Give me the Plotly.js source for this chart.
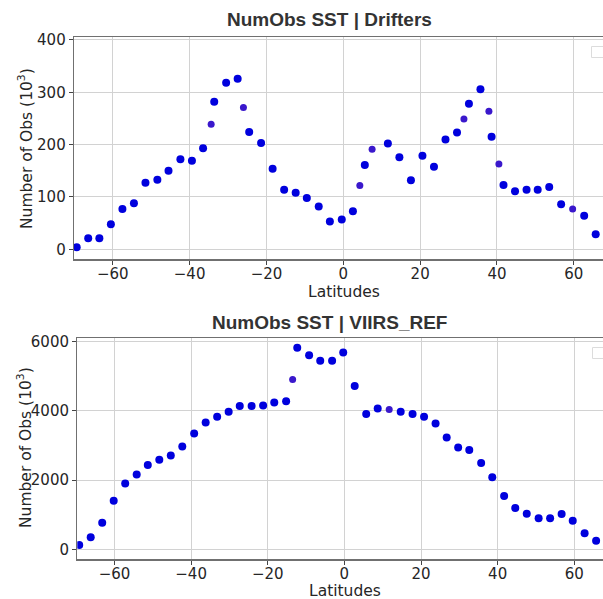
<!DOCTYPE html>
<html>
<head>
<meta charset="utf-8">
<script src="https://cdn.plot.ly/plotly-3.0.1.min.js"></script>
<style>html,body{margin:0;padding:0;background:#fff;overflow:hidden}#chart{width:603px;height:599px}</style>
</head>
<body>
<div id="chart"></div>
<script>
// ---- Data ----
var driftLat = [-69.4,-66.4,-63.5,-60.5,-57.5,-54.5,-51.5,-48.4,-45.5,-42.4,-39.4,-36.5,-33.6,-30.5,-27.5,-24.5,-21.4,-18.4,-15.4,-12.4,-9.5,-6.4,-3.5,-0.4,2.5,5.6,11.6,14.6,17.6,20.6,23.6,26.6,29.6,32.7,35.7,38.6,41.7,44.7,47.7,50.6,53.6,56.7,62.7,65.7];
var driftObs = [4,21,21,48,77,88,127,133,150,172,169,193,282,318,326,224,203,154,114,108,98,82,53,57,73,161,202,176,132,179,158,210,223,278,306,215,123,111,114,114,119,86,64,29];
var driftLat2 = [-34.4,-26.0,4.3,7.5,31.4,37.9,40.5,59.7];
var driftObs2 = [239,271,122,191,249,264,163,77];

var viirsLat = [-69.2,-66.2,-63.2,-60.2,-57.2,-54.2,-51.3,-48.3,-45.3,-42.3,-39.2,-36.2,-33.2,-30.2,-27.3,-24.2,-21.2,-18.3,-15.2,-12.3,-9.2,-6.3,-3.2,-0.3,2.7,5.7,8.7,14.7,17.8,20.8,23.8,26.7,29.7,32.6,35.7,38.6,41.7,44.6,47.6,50.7,53.7,56.7,59.6,62.7,65.7];
var viirsObs = [124,346,768,1403,1905,2165,2434,2587,2714,2974,3350,3667,3829,3974,4140,4140,4158,4240,4282,5822,5611,5446,5446,5689,4716,3907,4072,3974,3907,3829,3638,3234,2945,2867,2492,2079,1539,1193,1028,895,895,1019,826,462,248];
var viirsLat2 = [-13.5,11.7];
var viirsObs2 = [4909,4043];

var xTicks = [-60,-40,-20,0,20,40,60];
var driftTicks = [0,100,200,300,400];
var viirsTicks = [0,2000,4000,6000];

var titles = ['NumObs SST | Drifters','NumObs SST | VIIRS_REF'];
var xLabel = 'Latitudes';
var yLabel = 'Number of Obs (10<sup>3</sup>)';

// ---- Styling ----
var W = 603, H = 599;
function px(x){return x/W;}
function py(y){return 1 - y/H;}
var blue = '#0000dd', purple = '#3a18cc';
var txt = '#262626';
var tickFont = {family:'DejaVu Sans', size:15, color:txt};

function axisBase(){
  return {
    showgrid:true, gridcolor:'#d2d2d2', gridwidth:1,
    zeroline:false, showline:true, linecolor:'#707070', linewidth:1.3, mirror:true,
    ticks:'outside', ticklen:4, tickwidth:1, tickcolor:'#444',
    tickfont:tickFont, automargin:false, fixedrange:true
  };
}

var traces = [
  {x:driftLat, y:driftObs, type:'scatter', mode:'markers', xaxis:'x', yaxis:'y',
   marker:{color:blue, size:8, line:{width:0}}, showlegend:false},
  {x:driftLat2, y:driftObs2, type:'scatter', mode:'markers', xaxis:'x', yaxis:'y',
   marker:{color:purple, size:7, line:{width:0}}, showlegend:false},
  {x:viirsLat, y:viirsObs, type:'scatter', mode:'markers', xaxis:'x2', yaxis:'y2',
   marker:{color:blue, size:8, line:{width:0}}, showlegend:false},
  {x:viirsLat2, y:viirsObs2, type:'scatter', mode:'markers', xaxis:'x2', yaxis:'y2',
   marker:{color:purple, size:7, line:{width:0}}, showlegend:false}
];

var xa1 = axisBase(); xa1.domain=[px(74),1]; xa1.range=[-70.1,67.6]; xa1.tickvals=xTicks; xa1.anchor='y'; xa1.ticklabelstandoff=-4;
var ya1 = axisBase(); ya1.domain=[py(259.3),py(37.3)]; ya1.range=[-19,405]; ya1.tickvals=driftTicks; ya1.anchor='x';
var xa2 = axisBase(); xa2.domain=[px(77.3),1]; xa2.range=[-69.7,67.5]; xa2.tickvals=xTicks; xa2.anchor='y2'; xa2.ticklabelstandoff=-4;
var ya2 = axisBase(); ya2.domain=[py(559.3),py(338.3)]; ya2.range=[-289,6098]; ya2.tickvals=viirsTicks; ya2.anchor='x2';

function ann(text, x, y, font, angle){
  return {text:text, xref:'paper', yref:'paper', x:px(x), y:py(y), xanchor:'center', yanchor:'middle',
          showarrow:false, font:font, textangle:angle||0};
}
var titleFont = {family:'Liberation Sans', size:19, color:'#333', weight:'bold'};
var labFont = {family:'DejaVu Sans', size:15.5, color:txt};

var layout = {
  width:W, height:H, margin:{l:0,r:0,t:0,b:0},
  paper_bgcolor:'#fff', plot_bgcolor:'#fff', showlegend:false,
  xaxis:xa1, yaxis:ya1, xaxis2:xa2, yaxis2:ya2,
  annotations:[
    ann('<b>'+titles[0]+'</b>', 330, 20, titleFont),
    ann('<b>'+titles[1]+'</b>', 329, 322, titleFont),
    ann(xLabel, 343.5, 292, labFont),
    ann(xLabel, 344.5, 591, labFont),
    ann(yLabel, 25, 149, labFont, -90),
    ann(yLabel, 24, 448, labFont, -90)
  ],
  shapes:[
    {type:'rect', xref:'paper', yref:'paper', x0:px(591.5), x1:px(610), y0:py(57.5), y1:py(46.5),
     line:{color:'#dcdcdc', width:1}, fillcolor:'rgba(255,255,255,0.8)'},
    {type:'rect', xref:'paper', yref:'paper', x0:px(592.5), x1:px(610), y0:py(358.5), y1:py(347.5),
     line:{color:'#dcdcdc', width:1}, fillcolor:'rgba(255,255,255,0.8)'}
  ]
};

Plotly.newPlot('chart', traces, layout, {staticPlot:true, displayModeBar:false});
</script>
</body>
</html>
